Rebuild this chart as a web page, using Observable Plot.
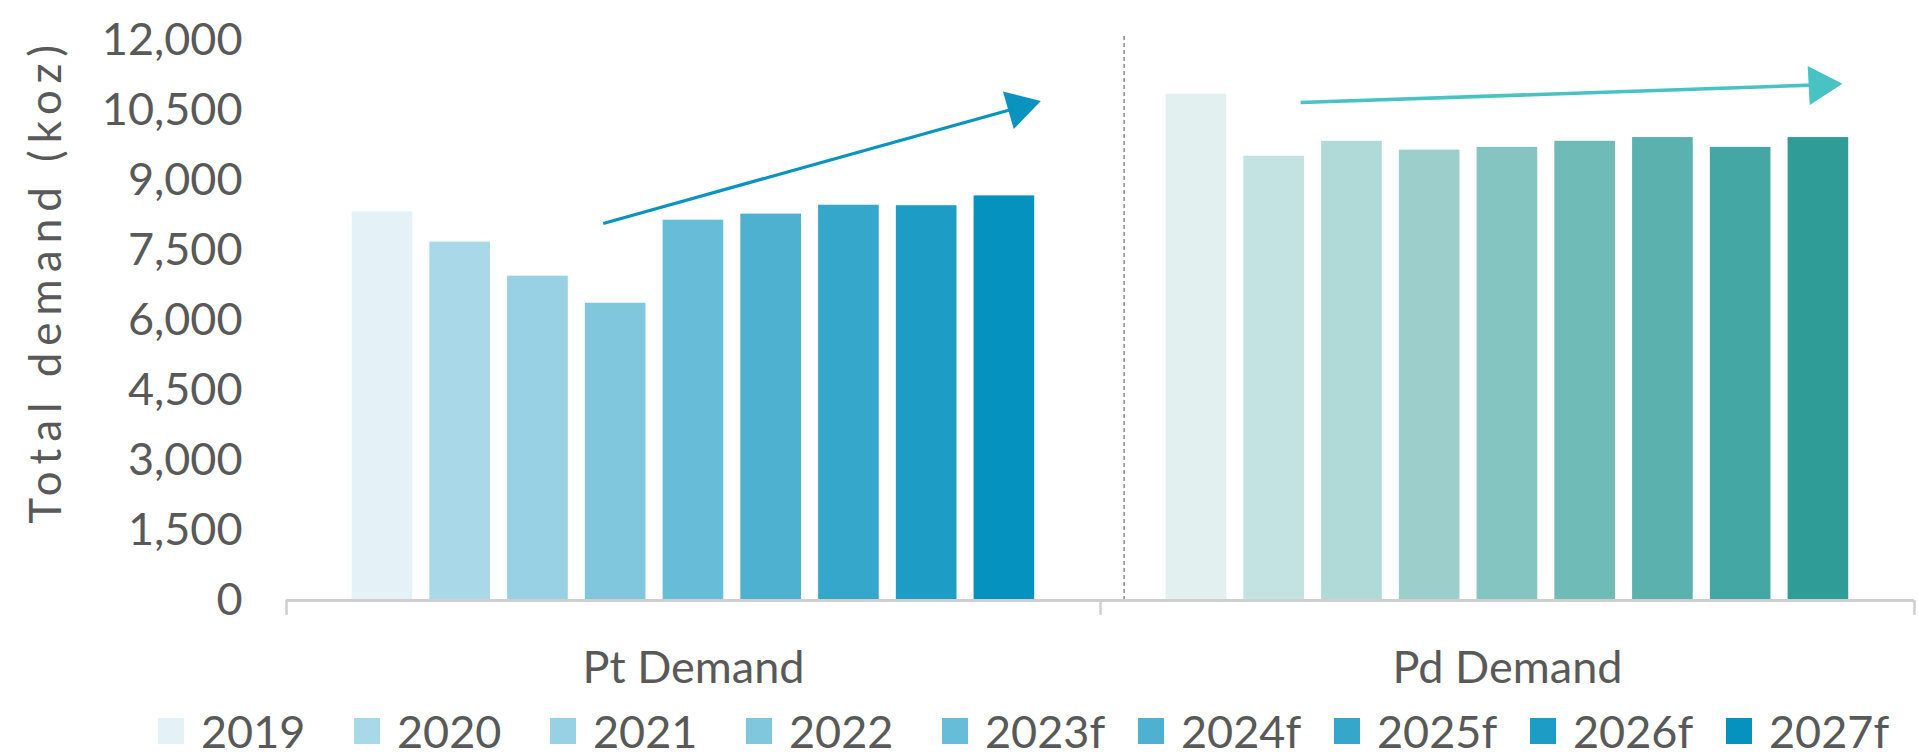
<!DOCTYPE html>
<html>
<head>
<meta charset="utf-8">
<script src="https://cdn.jsdelivr.net/npm/d3@7"></script>
<script src="https://cdn.jsdelivr.net/npm/@observablehq/plot@0.6"></script>
<style>
  html, body { margin: 0; padding: 0; background: #ffffff; }
  body { width: 1918px; height: 755px; overflow: hidden; font-family: Lato, sans-serif; }
  #chart svg { display: block; }
  g[aria-label="text"] text { letter-spacing: 7px; }
  #legend { display: flex; align-items: center; height: 55px; padding-left: 158px; padding-top: 6px; box-sizing: border-box; color: #595959; font-size: 45px; }
  .item { display: flex; align-items: center; width: 196px; flex: none; }
  .sw { width: 26px; height: 26px; margin-right: 17px; flex: none; }
</style>
</head>
<body>
<div id="chart"></div>
<div id="legend"></div>
<script>
const groups = ["Pt Demand", "Pd Demand"];
const years = ["2019", "2020", "2021", "2022", "2023f", "2024f", "2025f", "2026f", "2027f"];
const ptDemand = [8330, 7680, 6950, 6370, 8150, 8280, 8470, 8460, 8670];
const pdDemand = [10850, 9520, 9840, 9650, 9710, 9840, 9920, 9710, 9920];
const ptColors = ["#e4f2f7", "#a9d9e8", "#97d1e3", "#80c6dd", "#67bdd8", "#4fb1d0", "#35a7ca", "#1d9cc5", "#0592bf"];
const pdColors = ["#e3f0f0", "#c3e3e2", "#afdad7", "#9ccfcc", "#84c5c1", "#6fbbb7", "#5ab1ae", "#45a7a3", "#2f9c98"];
const yTicks = [0, 1500, 3000, 4500, 6000, 7500, 9000, 10500, 12000];
const yLabel = "Total demand (koz)";

// within-group band layout (units = bar slots)
const xDomain = [-1.234, 9.236];
const halfBar = 0.39;

// annotations: trend arrows (start -> head), separator, category boundary ticks, axis title anchor
const trendGroups = ["Pt Demand", "Pd Demand"];
const trendX1 = [2.84, 1.34];
const trendY1 = [8080, 10670];
const trendX2 = [8.19, 8.02];
const trendY2 = [10570, 11050];
const trendColors = ["#0a93be", "#48c2c2"];
const trendWidths = [3.2, 3.6];
const trendAngles = [74, 87];
const separators = [{group: "Pd Demand", x: -0.93}];
const boundaryTicks = [
  {group: "Pt Demand", x: xDomain[0]},
  {group: "Pd Demand", x: xDomain[0]},
  {group: "Pd Demand", x: xDomain[1]}
];
const yLabelPos = [{group: "Pt Demand", x: -4.31, y: 6850, text: yLabel}];

const rows = groups.flatMap((g, gi) => years.map((yr, i) => ({
  group: g, year: yr, i,
  value: (gi === 0 ? ptDemand : pdDemand)[i],
  color: (gi === 0 ? ptColors : pdColors)[i]
})));
const trends = trendGroups.map((g, k) => ({
  group: g, x1: trendX1[k], y1: trendY1[k], x2: trendX2[k], y2: trendY2[k],
  color: trendColors[k], width: trendWidths[k], angle: trendAngles[k]
}));

const chart = Plot.plot({
  width: 1918,
  height: 700,
  marginTop: 40,
  marginBottom: 100,
  marginLeft: 285,
  marginRight: 4,
  style: {fontFamily: "Lato, sans-serif", fontSize: "45px", color: "#595959", background: "#ffffff", overflow: "visible"},
  fx: {domain: groups, padding: 0, axis: "bottom", tickSize: 0, tickPadding: 51, label: null},
  x: {domain: xDomain, axis: null},
  y: {domain: [0, 12000], ticks: yTicks, tickFormat: d3.format(","), tickSize: 0, tickPadding: 44, label: null},
  color: {type: "identity"},
  marks: [
    Plot.rectY(rows, {fx: "group", x1: d => d.i - halfBar, x2: d => d.i + halfBar, y: "value", fill: "color"}),
    Plot.ruleX(separators, {fx: "group", x: "x", y1: 0, y2: 12100, stroke: "#8a8a8a", strokeWidth: 1.5, strokeDasharray: "4,3"}),
    Plot.ruleY([0], {stroke: "#cfcfcf", strokeWidth: 3}),
    Plot.ruleX(boundaryTicks, {fx: "group", x: "x", y1: 0, y2: -320, stroke: "#cfcfcf", strokeWidth: 2.5}),
    Plot.link(trends.filter(d => d.group === "Pt Demand"), {fx: "group", x1: "x1", y1: "y1", x2: "x2", y2: "y2", stroke: "color", strokeWidth: trendWidths[0]}),
    Plot.link(trends.filter(d => d.group === "Pd Demand"), {fx: "group", x1: "x1", y1: "y1", x2: "x2", y2: "y2", stroke: "color", strokeWidth: trendWidths[1]}),
    Plot.dot(trends.filter(d => d.group === "Pt Demand"), {fx: "group", x: "x2", y: "y2", symbol: "triangle", r: 14.5, fill: "color", stroke: null, rotate: trendAngles[0]}),
    Plot.dot(trends.filter(d => d.group === "Pd Demand"), {fx: "group", x: "x2", y: "y2", symbol: "triangle", r: 14.5, fill: "color", stroke: null, rotate: trendAngles[1]}),
    Plot.text(yLabelPos, {fx: "group", x: "x", y: "y", text: "text", rotate: -90, fontSize: 44, fill: "#595959"})
  ]
});
document.getElementById("chart").appendChild(chart);

const legend = document.getElementById("legend");
years.forEach((yr, i) => {
  const item = document.createElement("div");
  item.className = "item";
  const sw = document.createElement("div");
  sw.className = "sw";
  sw.style.background = ptColors[i];
  const label = document.createElement("span");
  label.textContent = yr;
  item.appendChild(sw);
  item.appendChild(label);
  legend.appendChild(item);
});
</script>
</body>
</html>
